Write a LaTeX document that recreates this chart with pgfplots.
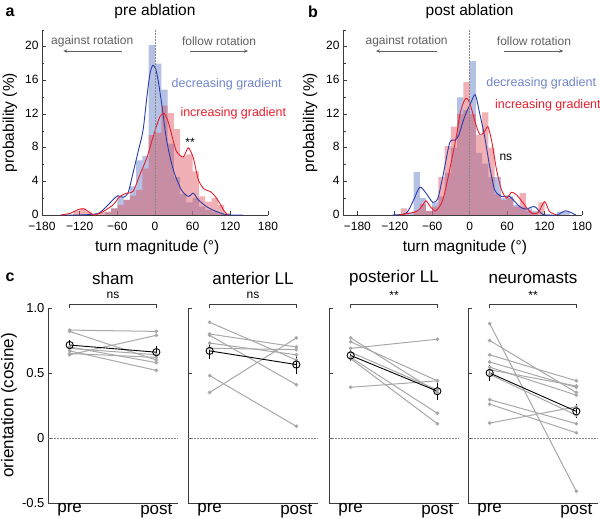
\documentclass[border=0pt]{standalone}
\usepackage{pgfplots}
\pgfplotsset{compat=1.18}
\usepackage{fontspec}
\setmainfont{Liberation Sans}
\usetikzlibrary{arrows.meta}

\definecolor{hblue}{RGB}{130,150,210}
\definecolor{hred}{RGB}{222,80,90}
\definecolor{cblue}{RGB}{40,60,170}
\definecolor{cred}{RGB}{232,30,45}
\definecolor{tblue}{RGB}{112,132,200}
\definecolor{tgray}{RGB}{95,95,95}
\definecolor{dotc}{RGB}{135,135,135}
\definecolor{axc}{RGB}{60,60,60}
\definecolor{indiv}{RGB}{168,168,168}

\pgfplotsset{
  base/.style={
    scale only axis, clip=false,
    axis x line*=bottom, axis y line*=left,
    axis line style={axc, line width=0.9pt},
    every tick/.style={axc, line width=0.7pt},
    tick align=inside,
    /pgf/number format/assume math mode=true,
  },
  hist/.style={base,
    width=226pt, height=185pt, ymin=0, ymax=22,
    xtick={-180,-120,-60,0,60,120,180},
    xticklabels={−180,−120,−60,0,60,120,180},
    ytick={0,4,8,12,16,20}, minor ytick={2,6,10,14,18,22},
    major tick length=4pt, minor tick length=2.5pt,
    tick label style={font=\fontsize{12}{13}\selectfont},
    x tick label style={yshift=-3.5pt},
    y tick label style={yshift=1pt},
    label style={font=\fontsize{15.5}{17}\selectfont},
    xlabel={turn magnitude (°)}, ylabel={probability (\%)},
    xlabel style={at={(axis description cs:0.51,-0.175)}, anchor=center},
  },
  orient/.style={base,
    width=130pt, height=195pt, ymin=-0.5, ymax=1, xmin=0.75, xmax=2.25,
    xtick={1,2}, xticklabels={pre,post}, major x tick style={draw=none},
    ytick={-0.5,0,0.5,1}, major tick length=4pt,
    x tick label style={font=\fontsize{17}{18}\selectfont, yshift=3pt},
    y tick label style={font=\fontsize{13}{14}\selectfont},
    label style={font=\fontsize{17}{18}\selectfont},
  },
  ind/.style={indiv, line width=1pt, mark=*, mark size=1.3pt},
  avg/.style={black, line width=0.9pt, mark=o, mark size=3.6pt,
    mark options={line width=0.9pt},
    error bars/.cd, y dir=both, y explicit, error mark=none,
    error bar style={line width=1.2pt}},
  bblue/.style={ybar interval, fill=hblue, fill opacity=0.6, draw=none},
  bred/.style={ybar interval, fill=hred, fill opacity=0.45, draw=none},
  zero/.style={dotc, dash pattern=on 1.5pt off 1.5pt, line width=0.7pt},
}

\begin{document}
\begin{tikzpicture}
\path[use as bounding box] (0,0) rectangle (600pt,519pt);

% ---- a: pre ablation
\begin{axis}[hist, at={(42pt,304pt)}, anchor=south west, xmin=-180, xmax=180,
  ylabel style={at={(axis description cs:-0.142,0.5)}, anchor=center}]
\addplot[bblue] coordinates {(-130,0) (-120,0) (-110,0) (-100,0) (-90,0) (-80,0.3) (-70,0.8) (-60,2.2) (-50,1.8) (-40,3.4) (-30,6.5) (-20,7.0) (-10,20.2) (0,18.0) (10,14.9) (20,8.5) (30,4.5) (40,2.5) (50,1.5) (60,2.0) (70,1.0) (80,0.6) (90,0.4) (100,0.2) (110,0) (120,0)};
\addplot[bred] coordinates {(-130,0.5) (-120,0.8) (-110,0.4) (-100,0) (-90,0.3) (-80,0.4) (-70,0.8) (-60,1.2) (-50,1.8) (-40,2.3) (-30,3.0) (-20,5.5) (-10,9.5) (0,9.8) (10,13.0) (20,12.1) (30,10.2) (40,7.0) (50,7.2) (60,5.2) (70,2.2) (80,1.6) (90,2.0) (100,1.2) (110,0.2) (120,0)};
\addplot[cblue, line width=0.9pt, smooth, tension=0.45] coordinates {(-150,0) (-120,0) (-105,0.05) (-90,0.2) (-80,0.8) (-67,1.8) (-59,2.3) (-51,2.1) (-43,2.6) (-35,5.0) (-27,7.5) (-19,10.1) (-13,14.0) (-8,16.8) (-3.5,17.8) (1,17.4) (5,16) (10.5,13.3) (18.5,8.9) (29,5.4) (42,3.0) (53,2.2) (61,2.6) (69,1.8) (82,1.0) (95,0.5) (110,0.1) (120,0) (140,0)};
\addplot[cred, line width=0.9pt, smooth, tension=0.45] coordinates {(-150,0) (-135,0.2) (-124,0.6) (-114,0.75) (-106,0.4) (-98,0) (-85,0.3) (-67,1.2) (-56,2.2) (-45,2.6) (-35,2.8) (-24,4.8) (-13,6.8) (-5,8.8) (2.5,10.6) (8,11.7) (14,12.1) (20,11.3) (25,10.0) (34,7.6) (45,6.9) (53,8.0) (61,6.8) (69,4.2) (78,3.1) (88,2.8) (96,2.2) (103,1.4) (110,0.5) (116,0)};
\addplot[zero] coordinates {(0,0) (0,22)};
\node[font=\fontsize{15.5}{17}\selectfont] at (axis cs:0,24.2) {pre ablation};
\node[tgray, font=\fontsize{12}{13}\selectfont] at (axis cs:-100,20.7) {against rotation};
\node[tgray, font=\fontsize{12}{13}\selectfont] at (axis cs:102,20.7) {follow rotation};
\draw[tgray, line width=0.9pt, -{Stealth[length=4pt,width=3.5pt]}] (axis cs:-53,19.5) -- (axis cs:-146,19.5);
\draw[tgray, line width=0.9pt, -{Stealth[length=4pt,width=3.5pt]}] (axis cs:56,19.5) -- (axis cs:148,19.5);
\node[tblue, anchor=west, font=\fontsize{12.5}{13}\selectfont] at (axis cs:21,15.5) {decreasing gradient};
\node[cred, anchor=west, font=\fontsize{12.5}{13}\selectfont] at (axis cs:35,12.1) {increasing gradient};
\node[font=\fontsize{12}{13}\selectfont] at (axis cs:56,8.6) {**};
\end{axis}

% ---- b: post ablation
\begin{axis}[hist, at={(343pt,304pt)}, anchor=south west, width=239pt, xmin=-203, xmax=180,
  ylabel style={at={(axis description cs:-0.138,0.5)}, anchor=center}]
\addplot[bblue] coordinates {(-110,0) (-100,0.3) (-90,5.1) (-80,2.0) (-70,0.5) (-60,1.5) (-50,2.2) (-40,5.0) (-30,8.0) (-20,14.0) (-10,12.5) (0,18.3) (10,7.4) (20,6.1) (30,4.5) (40,4.5) (50,2.0) (60,2.2) (70,1.2) (80,1.0) (90,0.8) (100,0.5) (110,0) (120,0) (130,0) (140,0.4) (150,0.4) (160,0) (170,0)};
\addplot[bred] coordinates {(-110,0.8) (-100,0) (-90,0.5) (-80,1.3) (-70,0.5) (-60,1.0) (-50,4.5) (-40,8.2) (-30,10.5) (-20,12.0) (-10,15.8) (0,12.0) (10,9.5) (20,12.2) (30,8.0) (40,2.5) (50,1.8) (60,2.0) (70,1.0) (80,2.6) (90,0.5) (100,0.3) (110,1.5) (120,0) (130,0)};
\addplot[cblue, line width=0.9pt, smooth, tension=0.45] coordinates {(-124,0) (-102,0.2) (-91,1.6) (-80,3.3) (-70,2.6) (-59,1.5) (-51,2.0) (-43,4.6) (-32,8.6) (-24,8.9) (-18,9.4) (-8,11.7) (2.7,13.5) (9,14.3) (16,12.1) (24,9.3) (32,5.8) (40,3.0) (51,2.2) (64,2.2) (80,1.0) (90,0.7) (104,1.0) (116,0.1) (125,0) (140,0) (154,0.5) (170,0)};
\addplot[cred, line width=0.9pt, smooth, tension=0.45] coordinates {(-113,0) (-86,0.4) (-75,1.2) (-70,1.7) (-62,0.9) (-54,0.5) (-43,1.8) (-32,5.4) (-21,9.5) (-15,12.2) (-8,13.7) (-3,13.8) (3,12.6) (9,11.0) (16,9.6) (23,9.8) (29,10.5) (35,8.9) (43,5.4) (51,3.0) (59,2.0) (67,2.7) (75,2.4) (84,1.6) (92,0.8) (100,0.2) (110,0.3) (120,1.6) (128,0.4) (140,0)};
\addplot[zero] coordinates {(0,0) (0,22)};
\node[font=\fontsize{15.5}{17}\selectfont] at (axis cs:0,24.2) {post ablation};
\node[tgray, font=\fontsize{12}{13}\selectfont] at (axis cs:-101,20.7) {against rotation};
\node[tgray, font=\fontsize{12}{13}\selectfont] at (axis cs:103,20.7) {follow rotation};
\draw[tgray, line width=0.9pt, -{Stealth[length=4pt,width=3.5pt]}] (axis cs:-53,19.5) -- (axis cs:-150,19.5);
\draw[tgray, line width=0.9pt, -{Stealth[length=4pt,width=3.5pt]}] (axis cs:55,19.5) -- (axis cs:150,19.5);
\node[tblue, anchor=west, font=\fontsize{12.5}{13}\selectfont] at (axis cs:21,15.7) {decreasing gradient};
\node[cred, anchor=west, font=\fontsize{12.5}{13}\selectfont] at (axis cs:35,13.1) {increasing gradient};
\node[font=\fontsize{12}{13}\selectfont] at (axis cs:58,6.9) {ns};
\end{axis}

% ---- c: orientation
\begin{axis}[orient, at={(48pt,16pt)}, anchor=south west,
  yticklabels={-0.5,0,0.5,1.0}, ylabel={orientation (cosine)},
  ylabel style={at={(axis description cs:-0.30,0.5)}, anchor=center}]
\addplot[zero] coordinates {(0.75,0) (2.25,0)};
\addplot[ind] coordinates {(1,0.83) (2,0.82)};
\addplot[ind] coordinates {(1,0.82) (2,0.60)};
\addplot[ind] coordinates {(1,0.64) (2,0.79)};
\addplot[ind] coordinates {(1,0.70) (2,0.58)};
\addplot[ind] coordinates {(1,0.67) (2,0.52)};
\addplot[ind] coordinates {(1,0.65) (2,0.62)};
\addplot[ind] coordinates {(1,0.69) (2,0.64)};
\addplot[avg] coordinates {(1,0.715) +- (0,0.035) (2,0.66) +- (0,0.045)};
\draw[axc, line width=0.8pt] (axis cs:1,1.0) -- (axis cs:1,1.025) -- (axis cs:2,1.025) -- (axis cs:2,1.0);
\node[font=\fontsize{12}{13}\selectfont] at (axis cs:1.5,1.1) {ns};
\node[font=\fontsize{17}{18}\selectfont] at (axis cs:1.5,1.23) {sham};
\end{axis}

\begin{axis}[orient, at={(188pt,16pt)}, anchor=south west, yticklabels={}]
\addplot[zero] coordinates {(0.75,0) (2.25,0)};
\addplot[ind] coordinates {(1,0.89) (2,0.60)};
\addplot[ind] coordinates {(1,0.80) (2,0.70)};
\addplot[ind] coordinates {(1,0.79) (2,0.41)};
\addplot[ind] coordinates {(1,0.73) (2,0.64)};
\addplot[ind] coordinates {(1,0.69) (2,0.68)};
\addplot[ind] coordinates {(1,0.48) (2,0.09)};
\addplot[ind] coordinates {(1,0.35) (2,0.77)};
\addplot[avg] coordinates {(1,0.67) +- (0,0.065) (2,0.565) +- (0,0.075)};
\draw[axc, line width=0.8pt] (axis cs:1,1.0) -- (axis cs:1,1.025) -- (axis cs:2,1.025) -- (axis cs:2,1.0);
\node[font=\fontsize{12}{13}\selectfont] at (axis cs:1.5,1.1) {ns};
\node[font=\fontsize{17}{18}\selectfont] at (axis cs:1.5,1.23) {anterior LL};
\end{axis}

\begin{axis}[orient, at={(329pt,16pt)}, anchor=south west, yticklabels={}]
\addplot[zero] coordinates {(0.75,0) (2.25,0)};
\addplot[ind] coordinates {(1,0.77) (2,0.35)};
\addplot[ind] coordinates {(1,0.74) (2,0.44)};
\addplot[ind] coordinates {(1,0.69) (2,0.76)};
\addplot[ind] coordinates {(1,0.66) (2,0.37)};
\addplot[ind] coordinates {(1,0.62) (2,0.19)};
\addplot[ind] coordinates {(1,0.61) (2,0.11)};
\addplot[ind] coordinates {(1,0.39) (2,0.44)};
\addplot[avg] coordinates {(1,0.635) +- (0,0.04) (2,0.36) +- (0,0.07)};
\draw[axc, line width=0.8pt] (axis cs:1,1.0) -- (axis cs:1,1.025) -- (axis cs:2,1.025) -- (axis cs:2,1.0);
\node[font=\fontsize{12}{13}\selectfont] at (axis cs:1.5,1.1) {**};
\node[font=\fontsize{17}{18}\selectfont] at (axis cs:1.5,1.23) {posterior LL};
\end{axis}

\begin{axis}[orient, at={(468pt,16pt)}, anchor=south west, yticklabels={}]
\addplot[zero] coordinates {(0.75,0) (2.25,0)};
\addplot[ind] coordinates {(1,0.88) (2,-0.41)};
\addplot[ind] coordinates {(1,0.75) (2,0.35)};
\addplot[ind] coordinates {(1,0.64) (2,0.44)};
\addplot[ind] coordinates {(1,0.585) (2,0.39)};
\addplot[ind] coordinates {(1,0.545) (2,0.33)};
\addplot[ind] coordinates {(1,0.525) (2,0.40)};
\addplot[ind] coordinates {(1,0.49) (2,0.175)};
\addplot[ind] coordinates {(1,0.295) (2,0.11)};
\addplot[ind] coordinates {(1,0.26) (2,0.04)};
\addplot[ind] coordinates {(1,0.115) (2,0.24)};
\addplot[avg] coordinates {(1,0.50) +- (0,0.06) (2,0.205) +- (0,0.055)};
\draw[axc, line width=0.8pt] (axis cs:1,1.0) -- (axis cs:1,1.025) -- (axis cs:2,1.025) -- (axis cs:2,1.0);
\node[font=\fontsize{12}{13}\selectfont] at (axis cs:1.5,1.1) {**};
\node[font=\fontsize{17}{18}\selectfont] at (axis cs:1.5,1.23) {neuromasts};
\end{axis}

\node[font=\bfseries\fontsize{16}{16}\selectfont] at (10pt,507pt) {a};
\node[font=\bfseries\fontsize{16}{16}\selectfont] at (313pt,507pt) {b};
\node[font=\bfseries\fontsize{16}{16}\selectfont] at (10pt,242pt) {c};
\end{tikzpicture}
\end{document}
